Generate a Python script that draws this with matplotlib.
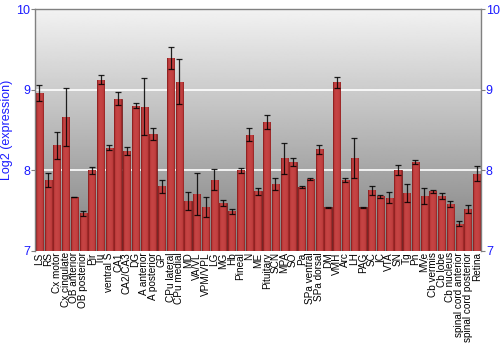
"""Log2 expression by brain region, bar chart with error bars."""

import matplotlib
matplotlib.use("Agg")
import matplotlib.pyplot as plt
import numpy as np
from matplotlib.colors import LinearSegmentedColormap

regions = [
    "LS", "RS", "Cx motor", "Cx cingulate", "OB anterior", "OB posterior", "Pir", "Tu",
    "ventral S", "CA1", "CA2/CA3", "DG", "A anterior", "A posterior", "GP", "CPu lateral",
    "CPu medial", "MD", "VA/VL", "VPM/VPL", "LG", "MG", "Hb", "Pineal", "N", "ME",
    "Pituitary", "SCN", "MPA", "SO", "Pa", "SPa ventral", "SPa dorsal", "DM", "VMH", "Arc",
    "LH", "PAG", "SC", "IC", "VTA", "SN", "Tg", "Pn", "MVe", "Cb vermis", "Cb lobe",
    "Cb nucleus", "spinal cord anterior", "spinal cord posterior", "Retina",
]
expression = [
    8.96, 7.88, 8.31, 8.66, 7.67, 7.465, 8.0, 9.125,
    8.28, 8.89, 8.24, 8.80, 8.79, 8.45, 7.80, 9.39,
    9.10, 7.62, 7.71, 7.54, 7.885, 7.595, 7.49, 8.0, 8.44, 7.74,
    8.60, 7.83, 8.15, 8.10, 7.79, 7.89, 8.26, 7.54, 9.09, 7.88,
    8.15, 7.54, 7.75, 7.68, 7.66, 8.0, 7.72, 8.10, 7.68, 7.74, 7.68,
    7.58, 7.34, 7.52, 7.96,
]
errors = [
    0.10, 0.09, 0.165, 0.36, 0.005, 0.03, 0.04, 0.06,
    0.03, 0.085, 0.045, 0.03, 0.35, 0.075, 0.08, 0.135,
    0.275, 0.115, 0.26, 0.125, 0.135, 0.04, 0.027, 0.035, 0.08, 0.04,
    0.09, 0.07, 0.19, 0.05, 0.01, 0.015, 0.055, 0.005, 0.07, 0.02,
    0.25, 0.005, 0.055, 0.02, 0.07, 0.06, 0.11, 0.025, 0.1, 0.02, 0.04,
    0.04, 0.03, 0.05, 0.09,
]

Y_MIN, Y_MAX = 7, 10
y_ticks = [7, 8, 9, 10]

BLUE = "#1a1aff"
FRAME = "#808080"

plt.rcParams["font.family"] = ["Liberation Sans", "DejaVu Sans"]

fig = plt.figure(figsize=(5, 3.5), dpi=100)
ax = fig.add_axes([0.07, 0.283, 0.892, 0.691])

x = np.arange(len(regions))
n = len(regions)

# vertical grey gradient behind the plot, dark at the bottom
grad = np.linspace(0.50, 0.95, 256).reshape(-1, 1)
ax.imshow(grad, cmap="gray", vmin=0, vmax=1, aspect="auto",
          extent=[-0.5, n - 0.5, Y_MIN, Y_MAX], origin="lower", zorder=0)

for y in [8, 9]:
    ax.axhline(y, color="white", linewidth=1.2, zorder=1)

heights = [v - Y_MIN for v in expression]
bars = ax.bar(x, heights, bottom=Y_MIN, width=0.82, color="#b03434",
              edgecolor="#681010", linewidth=0.5, zorder=2)

# horizontal shading across each bar: lighter left of centre, darker at the edges
bar_cmap = LinearSegmentedColormap.from_list("bar", ["#781414", "#b83838", "#c64444"])
shade = np.array([[0.2, 0.6, 0.9, 1.0, 0.95, 0.85, 0.65, 0.3]])
for b in bars:
    bx, bw = b.get_x(), b.get_width()
    im = ax.imshow(shade, cmap=bar_cmap, vmin=0, vmax=1, aspect="auto",
                   extent=[bx, bx + bw, Y_MIN, Y_MIN + b.get_height()],
                   interpolation="bilinear", zorder=2.5)
    im.set_clip_path(b)

ax.errorbar(x, expression, yerr=errors, fmt="none", ecolor="black",
            elinewidth=0.9, capsize=2.2, capthick=0.9, alpha=0.85, zorder=3)

ax.set_xlim(-0.5, n - 0.5)
ax.set_ylim(Y_MIN, Y_MAX)
ax.set_xticks(x)
ax.set_xticklabels(regions, rotation=90, fontsize=7.2)
ax.tick_params(axis="x", length=0, pad=1)
ax.set_yticks(y_ticks)
ax.tick_params(axis="y", colors=FRAME, labelcolor=BLUE, labelsize=9, length=3,
               right=True, labelright=True, pad=0.5)
ax.set_ylabel("Log2 (expression)", color=BLUE, fontsize=9, labelpad=2)

for side in ["left", "right", "top"]:
    ax.spines[side].set_color(FRAME)
    ax.spines[side].set_linewidth(1)
ax.spines["bottom"].set_visible(False)

fig.savefig("out.png", dpi=100)
